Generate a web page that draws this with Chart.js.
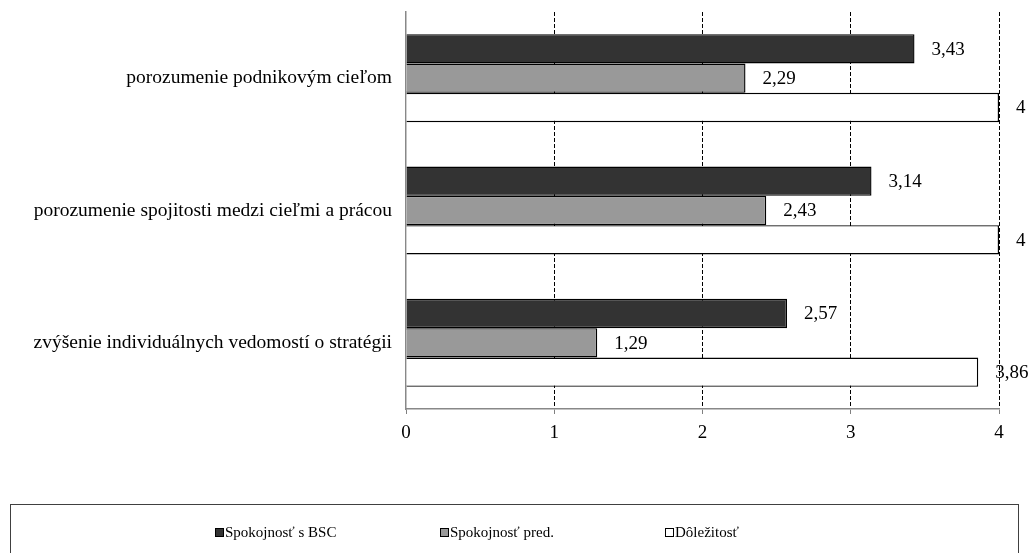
<!DOCTYPE html>
<html>
<head>
<meta charset="utf-8">
<script src="https://cdn.jsdelivr.net/npm/chart.js@4.4.1/dist/chart.umd.min.js"></script>
<style>
  html, body { margin: 0; padding: 0; background: #ffffff; }
  #wrap { width: 1030px; height: 553px; position: relative; }
</style>
</head>
<body>
<div id="wrap"><canvas id="c" width="1030" height="553"></canvas></div>
<script>
// Categories (top to bottom)
const categories = [
  'porozumenie podnikovým cieľom',
  'porozumenie spojitosti medzi cieľmi a prácou',
  'zvýšenie individuálnych vedomostí o stratégii'
];

// Series values
const spokojnostBSC = [3.43, 3.14, 2.57];
const spokojnostPred = [2.29, 2.43, 1.29];
const dolezitost = [4, 4, 3.86];

// Series names
const seriesNames = ['Spokojnosť s BSC', 'Spokojnosť pred.', 'Dôležitosť'];

// Value axis range and tick step
const axisMin = 0;
const axisMax = 4;
const axisStep = 1;

const FONT = '"Liberation Serif", "Times New Roman", serif';

function fmt(v) {
  return String(v).replace('.', ',');
}

// Value labels written to the right of each bar
const valueLabels = {
  id: 'valueLabels',
  afterDatasetsDraw(chart) {
    const ctx = chart.ctx;
    ctx.save();
    ctx.font = '19px ' + FONT;
    ctx.fillStyle = '#000000';
    ctx.textAlign = 'left';
    ctx.textBaseline = 'middle';
    chart.data.datasets.forEach((ds, di) => {
      const meta = chart.getDatasetMeta(di);
      meta.data.forEach((el, i) => {
        ctx.fillText(fmt(ds.data[i]), el.x + 17, el.y + 1);
      });
    });
    ctx.restore();
  }
};

// Boxed legend along the bottom
const boxLegend = {
  id: 'boxLegend',
  afterDraw(chart) {
    const ctx = chart.ctx;
    ctx.save();
    ctx.strokeStyle = '#404040';
    ctx.lineWidth = 1;
    ctx.strokeRect(10.5, 504.5, 1008, 80);
    ctx.font = '15px ' + FONT;
    ctx.textAlign = 'left';
    ctx.textBaseline = 'middle';
    const startX = 215;
    const gap = 225;
    const y = 533;
    chart.data.datasets.forEach((ds, i) => {
      const x = startX + i * gap;
      ctx.fillStyle = ds.backgroundColor;
      ctx.fillRect(x + 0.5, y - 4.5, 8, 8);
      ctx.strokeStyle = '#000000';
      ctx.strokeRect(x + 0.5, y - 4.5, 8, 8);
      ctx.fillStyle = '#000000';
      ctx.fillText(ds.label, x + 10, y);
    });
    ctx.restore();
  }
};

const barStyle = {
  borderColor: '#000000',
  borderWidth: 1.4,
  categoryPercentage: 0.665,
  barPercentage: 1.0
};

new Chart(document.getElementById('c'), {
  type: 'bar',
  data: {
    labels: categories,
    datasets: [
      Object.assign({ label: seriesNames[0], data: spokojnostBSC, backgroundColor: '#333333' }, barStyle),
      Object.assign({ label: seriesNames[1], data: spokojnostPred, backgroundColor: '#999999' }, barStyle),
      Object.assign({ label: seriesNames[2], data: dolezitost, backgroundColor: '#ffffff' }, barStyle)
    ]
  },
  options: {
    indexAxis: 'y',
    responsive: false,
    animation: false,
    layout: { padding: { top: 12, right: 31, left: 0, bottom: 0 } },
    plugins: {
      legend: { display: false },
      tooltip: { enabled: false }
    },
    scales: {
      x: {
        min: axisMin,
        max: axisMax,
        ticks: {
          stepSize: axisStep,
          padding: 8,
          color: '#000000',
          font: { family: FONT, size: 19 }
        },
        grid: {
          color: (c) => (c.tick && c.tick.value === axisMin ? 'rgba(0,0,0,0)' : '#000000'),
          lineWidth: 1,
          tickColor: '#808080',
          tickLength: 5,
          tickWidth: 1
        },
        border: { display: true, color: '#888888', width: 1.5, dash: [4, 2] },
        afterFit(scale) {
          scale.height = 144;
          scale.paddingLeft = 0;
          scale.paddingRight = 0;
        }
      },
      y: {
        ticks: {
          padding: 14,
          color: '#000000',
          font: { family: FONT, size: 19.5 }
        },
        grid: { drawOnChartArea: false, drawTicks: false },
        border: { display: true, color: '#888888', width: 1.5 },
        afterFit(scale) {
          scale.width = 406;
          scale.paddingTop = 0;
          scale.paddingBottom = 0;
        }
      }
    }
  },
  plugins: [valueLabels, boxLegend]
});
</script>
</body>
</html>
